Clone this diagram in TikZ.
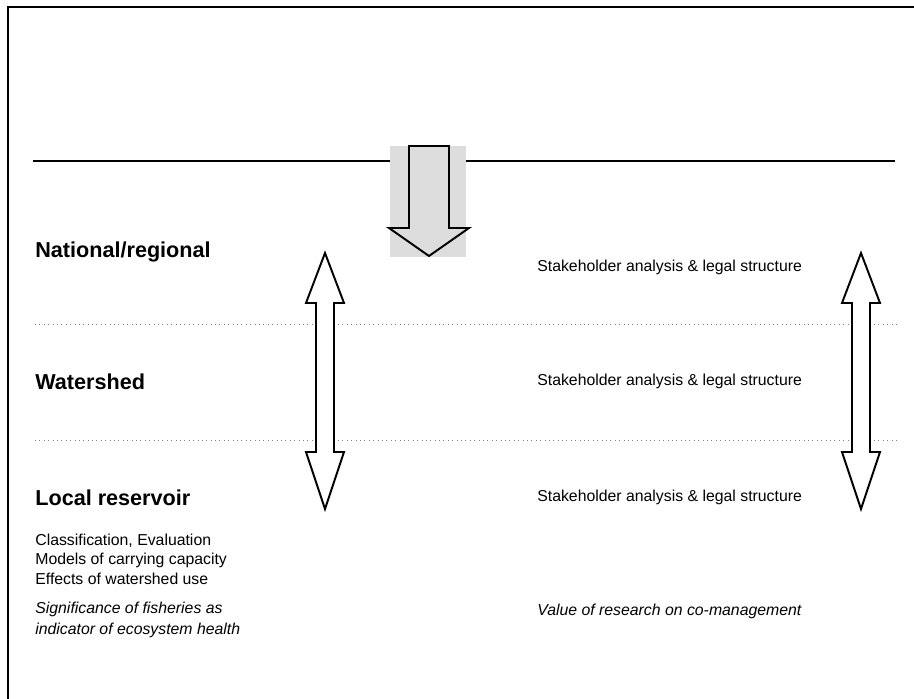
\documentclass[tikz,border=0pt]{standalone}
\usepackage{fontspec}
\setmainfont{Liberation Sans}
\usepackage{xcolor}
\usetikzlibrary{positioning}
\definecolor{boxGray}{HTML}{DDDDDD}
\definecolor{dotGray}{HTML}{808080}

\begin{document}
\begin{tikzpicture}[x=0.02cm, y=-0.02cm,
  level/.style={anchor=west, inner sep=0pt, font=\fontsize{12.3}{14}\selectfont\bfseries},
  topic/.style={anchor=west, inner sep=0pt, font=\fontsize{9}{11}\selectfont},
  note/.style={anchor=west, inner sep=0pt, font=\fontsize{9}{11}\selectfont\itshape, align=left},
  bigarrow/.style={draw, line width=1.1pt, fill=white, line join=miter}]
\useasboundingbox (0,0) rectangle (914,699);
% frame
\draw[line width=1.7pt] (8,699) -- (8,7) -- (914,7);
% top line and incoming arrow
\draw[line width=0.6pt] (33,161) -- (895,161);
\node[fill=boxGray, inner sep=0pt, minimum width=1.54cm, minimum height=2.22cm] (in) at (428,201.5) {};
\draw[bigarrow, fill=boxGray] (409,146) -- (449,146) -- (449,228) -- (469,228)
  -- (429,256) -- (389,228) -- (409,228) -- cycle;
% level separators
\draw[dotGray, dotted, line width=0.5pt] (35,324) -- (897,324);
\draw[dotGray, dotted, line width=0.5pt] (35,440) -- (897,440);
% double arrows
\foreach \cx in {325,861} {
  \draw[bigarrow] (\cx,253) -- (\cx+19,303) -- (\cx+9,303) -- (\cx+9,452) -- (\cx+19,452)
    -- (\cx,509) -- (\cx-19,452) -- (\cx-9,452) -- (\cx-9,303) -- (\cx-19,303) -- cycle;
}
% levels
\node[level] (nat) at (35,252) {National/regional};
\node[level] (wat) at (35,382) {Watershed};
\node[level] (loc) at (35,498) {Local reservoir};
\node[topic] (natS) at (537,267) {Stakeholder analysis \& legal structure};
\node[topic] (watS) at (537,381) {Stakeholder analysis \& legal structure};
\node[topic] (locS) at (537,497) {Stakeholder analysis \& legal structure};
% research topics
\node[topic] (cls) at (35,541) {Classification, Evaluation};
\node[topic] (mod) at (35,560) {Models of carrying capacity};
\node[topic] (eff) at (35,579) {Effects of watershed use};
\node[note, anchor=north west] (sig) at (35,602) {Significance of fisheries as\\[1pt]indicator of ecosystem health};
\node[note] (val) at (537,611) {Value of research on co-management};
\end{tikzpicture}
\end{document}
